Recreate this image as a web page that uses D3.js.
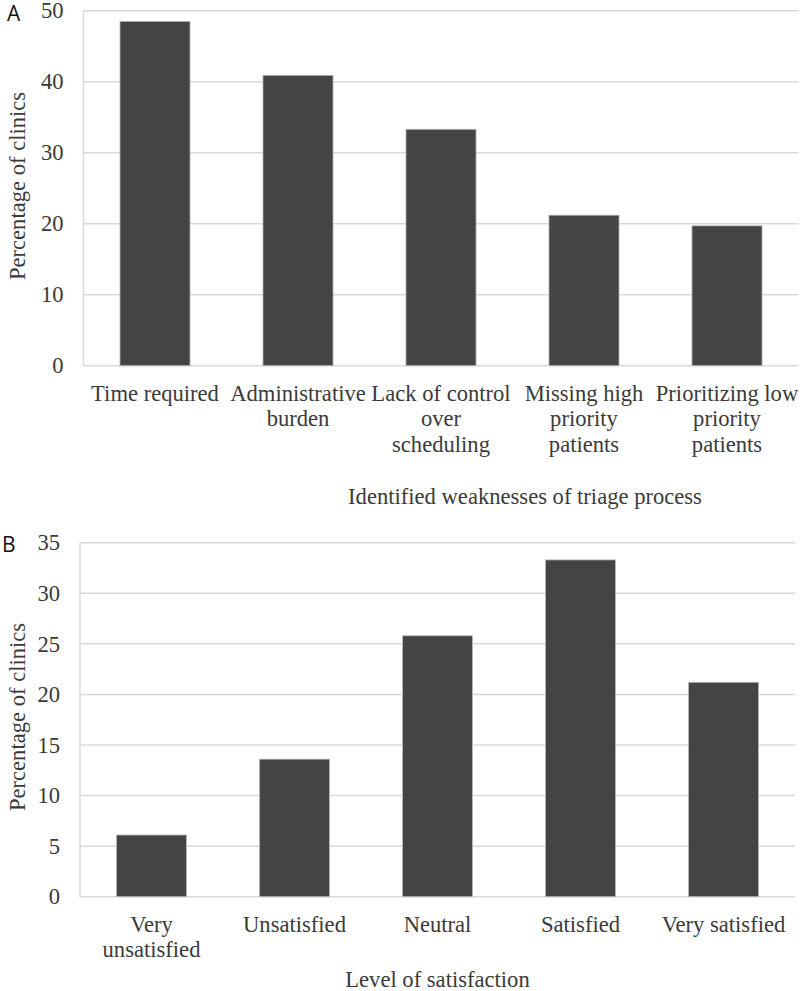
<!DOCTYPE html>
<html>
<head>
<meta charset="utf-8">
<script src="https://cdn.jsdelivr.net/npm/d3@7"></script>
<style>
  html, body { margin: 0; padding: 0; background: #fff; }
  svg { display: block; }
</style>
</head>
<body>
<svg id="chart" width="800" height="991"></svg>
<script>
// Panel A data
const weaknessCategories = [
  ["Time required"],
  ["Administrative", "burden"],
  ["Lack of control", "over", "scheduling"],
  ["Missing high", "priority", "patients"],
  ["Prioritizing low", "priority", "patients"]
];
const weaknessValues = [48.5, 40.9, 33.3, 21.2, 19.7];
const weaknessTicks = [0, 10, 20, 30, 40, 50];

// Panel B data
const satisfactionCategories = [
  ["Very", "unsatisfied"],
  ["Unsatisfied"],
  ["Neutral"],
  ["Satisfied"],
  ["Very satisfied"]
];
const satisfactionValues = [6.1, 13.6, 25.8, 33.3, 21.2];
const satisfactionTicks = [0, 5, 10, 15, 20, 25, 30, 35];

const svg = d3.select("#chart");
const serif = "'Liberation Serif', 'Times New Roman', serif";
const fs = 22.6;
const textColor = "#3a3a3a";
const gridColor = "#d9d9d9";
const barColor = "#444444";

function panel(cfg) {
  const g = svg.append("g");
  const x = d3.scaleBand()
    .domain(cfg.categories.map((d, i) => i))
    .range([cfg.left, cfg.right])
    .paddingInner(0.51)
    .paddingOuter(0.255);
  const y = d3.scaleLinear()
    .domain([0, cfg.max])
    .range([cfg.bottom, cfg.top]);

  // gridlines
  g.append("g").selectAll("line")
    .data(cfg.ticks)
    .join("line")
    .attr("x1", cfg.left).attr("x2", cfg.right)
    .attr("y1", d => y(d)).attr("y2", d => y(d))
    .attr("stroke", gridColor).attr("stroke-width", 1.5);

  // left axis line
  g.append("line")
    .attr("x1", cfg.left).attr("x2", cfg.left)
    .attr("y1", y(cfg.max)).attr("y2", y(0))
    .attr("stroke", gridColor).attr("stroke-width", 1.5);

  // y tick labels
  const yAxis = d3.axisLeft(y).tickValues(cfg.ticks).tickSize(0).tickPadding(20);
  const ya = g.append("g").attr("transform", `translate(${cfg.left},0)`).call(yAxis);
  ya.select(".domain").remove();
  ya.selectAll("text")
    .attr("font-family", serif).attr("font-size", fs).attr("fill", textColor);

  // bars
  g.append("g").selectAll("rect")
    .data(cfg.values)
    .join("rect")
    .attr("x", (d, i) => x(i))
    .attr("width", x.bandwidth())
    .attr("y", d => y(d))
    .attr("height", d => y(0) - y(d))
    .attr("fill", barColor)
    .attr("stroke", "#bbbbbb").attr("stroke-width", 0.8);

  // category labels
  const lab = g.append("g").selectAll("text")
    .data(cfg.categories)
    .join("text")
    .attr("x", (d, i) => x(i) + x.bandwidth() / 2)
    .attr("y", cfg.bottom + cfg.labelOffset)
    .attr("text-anchor", "middle")
    .attr("font-family", serif).attr("font-size", fs).attr("fill", textColor);
  lab.selectAll("tspan")
    .data(d => d)
    .join("tspan")
    .attr("x", function() { return this.parentNode.getAttribute("x"); })
    .attr("dy", (d, i) => i === 0 ? 0 : 25.5)
    .text(d => d);

  // axis titles
  g.append("text")
    .attr("x", cfg.xTitleX)
    .attr("y", cfg.xTitleY)
    .attr("text-anchor", "middle")
    .attr("font-family", serif).attr("font-size", fs).attr("fill", textColor)
    .text(cfg.xTitle);
  g.append("text")
    .attr("transform", `translate(${cfg.yTitleX},${cfg.yTitleY}) rotate(-90)`)
    .attr("text-anchor", "middle")
    .attr("font-family", serif).attr("font-size", fs).attr("fill", textColor)
    .text("Percentage of clinics");

  // panel letter
  g.append("text")
    .attr("x", cfg.letterX).attr("y", cfg.letterY)
    .attr("font-family", "'Open Sans', 'DejaVu Sans', sans-serif")
    .attr("font-size", 21).attr("fill", "#111")
    .text(cfg.letter);
}

panel({
  categories: weaknessCategories, values: weaknessValues, ticks: weaknessTicks, max: 50,
  left: 83.5, right: 798.5, top: 10.7, bottom: 365.7, labelOffset: 35,
  xTitle: "Identified weaknesses of triage process", xTitleX: 525, xTitleY: 504,
  yTitleX: 25, yTitleY: 186, letter: "A", letterX: 7, letterY: 20.5
});

panel({
  categories: satisfactionCategories, values: satisfactionValues, ticks: satisfactionTicks, max: 35,
  left: 80, right: 795, top: 542.7, bottom: 896.7, labelOffset: 35,
  xTitle: "Level of satisfaction", xTitleX: 437.5, xTitleY: 987,
  yTitleX: 25, yTitleY: 717, letter: "B", letterX: 2, letterY: 552
});
</script>
</body>
</html>
